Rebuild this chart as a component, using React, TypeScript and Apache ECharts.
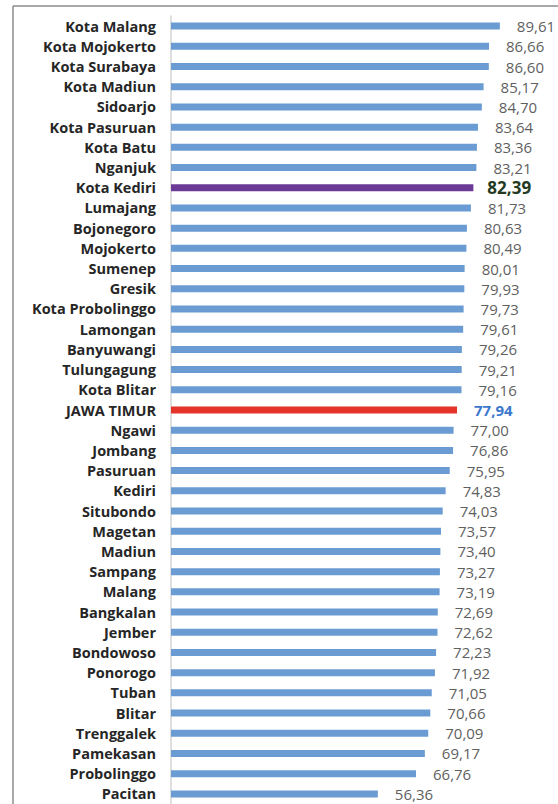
import React, { useEffect, useRef } from "react";
import * as echarts from "echarts";

const categories = [
  "Kota Malang", "Kota Mojokerto", "Kota Surabaya", "Kota Madiun", "Sidoarjo",
  "Kota Pasuruan", "Kota Batu", "Nganjuk", "Kota Kediri", "Lumajang",
  "Bojonegoro", "Mojokerto", "Sumenep", "Gresik", "Kota Probolinggo",
  "Lamongan", "Banyuwangi", "Tulungagung", "Kota Blitar", "JAWA TIMUR",
  "Ngawi", "Jombang", "Pasuruan", "Kediri", "Situbondo",
  "Magetan", "Madiun", "Sampang", "Malang", "Bangkalan",
  "Jember", "Bondowoso", "Ponorogo", "Tuban", "Blitar",
  "Trenggalek", "Pamekasan", "Probolinggo", "Pacitan",
];

const values = [
  89.61, 86.66, 86.6, 85.17, 84.7,
  83.64, 83.36, 83.21, 82.39, 81.73,
  80.63, 80.49, 80.01, 79.93, 79.73,
  79.61, 79.26, 79.21, 79.16, 77.94,
  77.0, 76.86, 75.95, 74.83, 74.03,
  73.57, 73.4, 73.27, 73.19, 72.69,
  72.62, 72.23, 71.92, 71.05, 70.66,
  70.09, 69.17, 66.76, 56.36,
];

const highlightCity = "Kota Kediri";
const provinceName = "JAWA TIMUR";

const fmt = (v: number) => v.toFixed(2).replace(".", ",");

export default function App() {
  const ref = useRef<HTMLDivElement>(null);
  useEffect(() => {
    if (!ref.current) return;
    const chart = echarts.init(ref.current, null, { renderer: "svg" });
    const data = categories.map((c, i) => {
      const v = values[i];
      if (c === highlightCity) {
        return {
          value: v,
          itemStyle: { color: "#6b3a97" },
          label: { color: "#233b22", fontWeight: "bold", fontSize: 17, distance: 14 },
        };
      }
      if (c === provinceName) {
        return {
          value: v,
          itemStyle: { color: "#e5332a" },
          label: { color: "#3c78cc", fontWeight: "bold", fontSize: 15, distance: 17 },
        };
      }
      return { value: v };
    });
    chart.setOption({
      animation: false,
      backgroundColor: "#ffffff",
      grid: { left: 171, right: 20, top: 16, bottom: 0, containLabel: false },
      xAxis: {
        type: "value",
        min: 0,
        max: 100,
        show: false,
      },
      yAxis: {
        type: "category",
        data: categories,
        inverse: true,
        axisLine: { show: true, lineStyle: { color: "#d4d4d4", width: 1.5 } },
        axisTick: { show: false },
        axisLabel: {
          margin: 15,
          fontFamily: "Open Sans",
          fontWeight: "bold",
          fontSize: 14.5,
          color: "#262626",
        },
      },
      series: [
        {
          type: "bar",
          data,
          barWidth: 7,
          itemStyle: { color: "#6a9bd2" },
          label: {
            show: true,
            position: "right",
            distance: 17,
            fontFamily: "Open Sans",
            fontSize: 15,
            color: "#5f5f5f",
            formatter: (p: any) => fmt(p.value),
          },
        },
      ],
      graphic: [
        {
          type: "line",
          shape: { x1: 13, y1: 6, x2: 558, y2: 6 },
          style: { stroke: "#8c8c8c", lineWidth: 1.5 },
          silent: true,
        },
        {
          type: "line",
          shape: { x1: 13, y1: 6, x2: 13, y2: 804 },
          style: { stroke: "#8c8c8c", lineWidth: 1.5 },
          silent: true,
        },
      ],
    });
    return () => chart.dispose();
  }, []);
  return (
    <div
      ref={ref}
      style={{ position: "absolute", left: 0, top: 0, width: 558, height: 804, background: "#fff" }}
    />
  );
}
